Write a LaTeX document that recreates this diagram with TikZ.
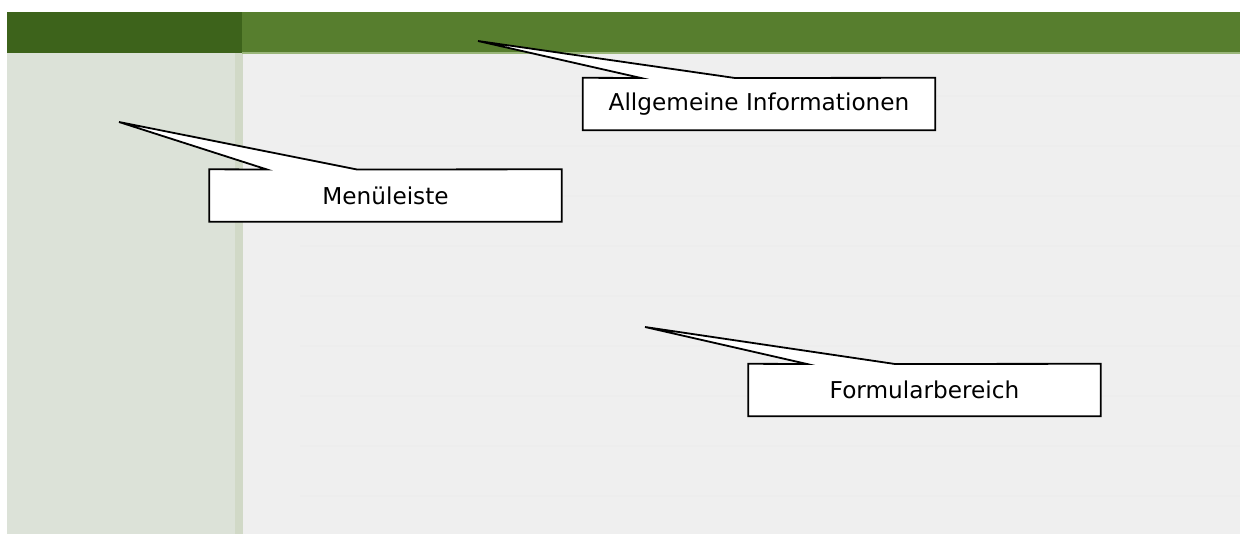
\documentclass[tikz,border=0pt]{standalone}
\usepackage{fontspec}
\setmainfont{DejaVu Sans}
\definecolor{hdrdark}{HTML}{3D631B}
\definecolor{hdrlight}{HTML}{577E2E}
\definecolor{hdrline}{HTML}{9AB67A}
\definecolor{sidebar}{HTML}{DCE2D8}
\definecolor{sidestrip}{HTML}{D1D9C7}
\definecolor{mainbg}{HTML}{EFEFEF}
\definecolor{stripe}{HTML}{EDEDED}
\tikzset{
  calloutbox/.style={minimum width=352pt, minimum height=52pt, inner sep=0pt,
    font=\fontsize{23.2}{28}\selectfont, text=black},
  calloutline/.style={draw=black, fill=white, line width=1.8pt, line join=miter}
}
\begin{document}
\begin{tikzpicture}[x=1pt,y=-1pt]
\useasboundingbox (0,0) rectangle (1240,534);
\fill[white] (0,0) rectangle (1240,534);
% main area
\fill[mainbg] (7,53) rectangle (1240,534);
\foreach \y in {95,145,195,245,295,345,395,445,495}
  \fill[stripe] (300,\y) rectangle (1240,\y+2);
% sidebar
\fill[sidebar] (7,53) rectangle (235,534);
\fill[sidestrip] (235,53) rectangle (243,534);
% header
\fill[hdrlight] (242,12) rectangle (1240,53);
\fill[hdrdark] (7,12) rectangle (242,53);
\fill[hdrline] (242,52) rectangle (1240,54);

% callout boxes
\node[calloutbox] (b1) at (759,104) {};
\node[calloutbox] (b2) at (385.5,195.5) {};
\node[calloutbox] (b3) at (924.5,390) {};

\coordinate (t1) at (478,41);
\coordinate (l1) at (641,78);
\coordinate (r1) at (735,78);
\coordinate (t2) at (119,122);
\coordinate (l2) at (267,169.5);
\coordinate (r2) at (357,169.5);
\coordinate (t3) at (645,327);
\coordinate (l3) at (807,364);
\coordinate (r3) at (895,364);

\draw[calloutline] (b1.north west) -- (l1) -- (t1) -- (r1) -- (b1.north east) -- (b1.south east) -- (b1.south west) -- cycle;
\draw[calloutline] (b2.north west) -- (l2) -- (t2) -- (r2) -- (b2.north east) -- (b2.south east) -- (b2.south west) -- cycle;
\draw[calloutline] (b3.north west) -- (l3) -- (t3) -- (r3) -- (b3.north east) -- (b3.south east) -- (b3.south west) -- cycle;

\node[calloutbox] (txt1) at (b1.center) {Allgemeine Informationen};
\node[calloutbox] (txt2) at (b2.center) {Menüleiste};
\node[calloutbox] (txt3) at (b3.center) {Formularbereich};
\end{tikzpicture}
\end{document}
